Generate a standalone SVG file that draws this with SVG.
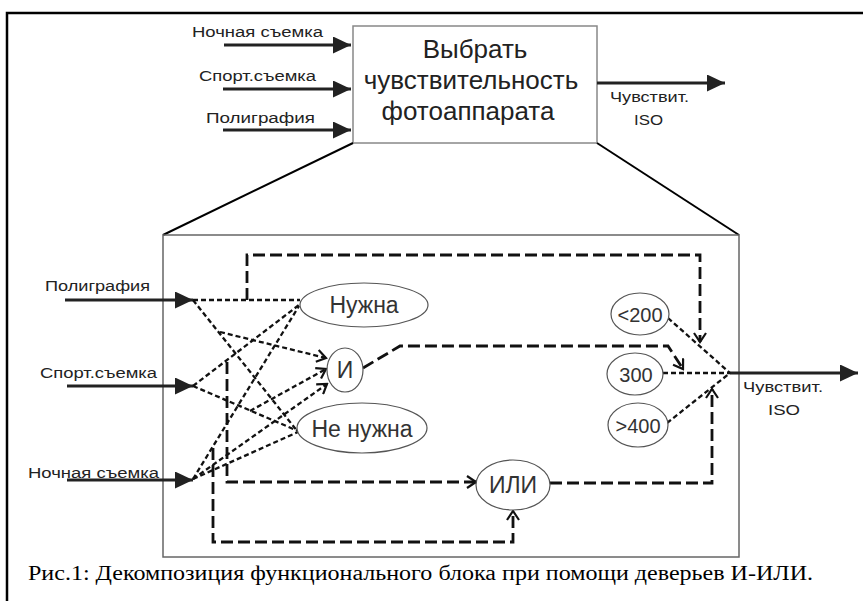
<svg xmlns="http://www.w3.org/2000/svg" width="863" height="601" viewBox="0 0 863 601">
<style>
.lbl{font-family:"Liberation Sans",Arial,sans-serif;font-size:15.5px;fill:#222}
.big{font-family:"Liberation Sans",Arial,sans-serif;font-size:26px;fill:#222;text-anchor:middle}
.nt{font-family:"Liberation Sans",Arial,sans-serif;font-size:23px;fill:#333;text-anchor:middle}
.vt{font-family:"Liberation Sans",Arial,sans-serif;font-size:20px;fill:#333;text-anchor:middle}
.cap{font-family:"Liberation Serif","Times New Roman",serif;font-size:20.5px;fill:#000}
.thick{stroke:#222;stroke-width:3.2;fill:none}
.sd{stroke:#111;stroke-width:2.3;stroke-dasharray:5 3;fill:none}
.ld{stroke:#111;stroke-width:2.8;stroke-dasharray:12 5;fill:none}
.el{fill:#fff;stroke:#555;stroke-width:1.2}
</style>
<defs>
<marker id="fa" markerUnits="userSpaceOnUse" markerWidth="19" markerHeight="17" refX="18" refY="8.5" orient="auto">
<path d="M0,0 L18,8.5 L0,17 z" fill="#222"/>
</marker>
<marker id="ch" markerUnits="userSpaceOnUse" markerWidth="12" markerHeight="14" refX="10" refY="7" orient="auto">
<path d="M1,1 L10,7 L1,13" fill="none" stroke="#111" stroke-width="2.2" stroke-dasharray="none"/>
</marker>
</defs>
<rect width="863" height="601" fill="#fff"/>
<path d="M7,601 L7,13 L863,13" stroke="#000" stroke-width="2.5" fill="none"/>

<g id="top-block">
<rect x="353" y="26" width="244" height="117" fill="#fff" stroke="#888" stroke-width="1.5"/>
<text class="big" x="475" y="58">Выбрать</text>
<text class="big" x="471" y="89">чувствительность</text>
<text class="big" x="468" y="120">фотоаппарата</text>
</g>

<g id="top-inputs">
<text class="lbl" x="192" y="37" textLength="131" lengthAdjust="spacingAndGlyphs">Ночная съемка</text>
<text class="lbl" x="199" y="81" textLength="117" lengthAdjust="spacingAndGlyphs">Спорт.съемка</text>
<text class="lbl" x="206" y="123" textLength="109" lengthAdjust="spacingAndGlyphs">Полиграфия</text>
<text class="lbl" x="610" y="102" textLength="79" lengthAdjust="spacingAndGlyphs">Чувствит.</text>
<text class="lbl" x="634" y="125" textLength="29" lengthAdjust="spacingAndGlyphs">ISO</text>
</g>

<g id="expansion">
<line x1="353" y1="143" x2="163" y2="235" stroke="#000" stroke-width="2"/>
<line x1="597" y1="143" x2="739" y2="235" stroke="#000" stroke-width="2"/>
<rect x="163" y="235" width="576" height="322" fill="none" stroke="#666" stroke-width="1.5"/>
</g>

<g id="connectors">
<line class="thick" x1="224" y1="45" x2="351" y2="45" marker-end="url(#fa)"/>
<line class="thick" x1="223" y1="89" x2="351" y2="89" marker-end="url(#fa)"/>
<line class="thick" x1="223" y1="130" x2="351" y2="130" marker-end="url(#fa)"/>
<line class="thick" x1="597" y1="83" x2="725" y2="83" marker-end="url(#fa)"/>
<line class="thick" x1="65" y1="300" x2="193" y2="300" marker-end="url(#fa)"/>
<line class="thick" x1="67" y1="386" x2="193" y2="386" marker-end="url(#fa)"/>
<line class="thick" x1="67" y1="480" x2="193" y2="480" marker-end="url(#fa)"/>
<line class="thick" x1="730" y1="373" x2="858" y2="373" marker-end="url(#fa)"/>

<path class="sd" d="M193,300 L300,300"/>
<path class="sd" d="M193,300 L298,432"/>
<path class="sd" d="M220,332 L326,358" marker-end="url(#ch)"/>
<path class="sd" d="M193,386 L299,305"/>
<path class="sd" d="M193,386 L298,431"/>
<path class="sd" d="M250,411 L326,369" marker-end="url(#ch)"/>
<path class="sd" d="M193,479 L299,306"/>
<path class="sd" d="M193,479 L327,384" marker-end="url(#ch)"/>
<path class="sd" d="M193,479 L298,432"/>

<path class="ld" d="M247,300 L247,255 L700,255 L700,342" marker-end="url(#ch)"/>
<path class="ld" d="M363,368 L400,346 L668,346 L683,369" marker-end="url(#ch)"/>
<path class="ld" d="M227,362 L227,482 L476,482" marker-end="url(#ch)"/>
<path class="ld" d="M213,448 L213,542 L513,542 L513,511" marker-end="url(#ch)"/>
<path class="ld" d="M550,483 L712,483 L712,389" marker-end="url(#ch)"/>

<path class="sd" d="M668,318 L730,373"/>
<path class="sd" d="M663,373 L730,373"/>
<path class="sd" d="M667,423 L730,373"/>
</g>

<g id="inner-labels">
<text class="lbl" x="45" y="291" textLength="105" lengthAdjust="spacingAndGlyphs">Полиграфия</text>
<text class="lbl" x="40" y="378" textLength="117" lengthAdjust="spacingAndGlyphs">Спорт.съемка</text>
<text class="lbl" x="28" y="478" textLength="131" lengthAdjust="spacingAndGlyphs">Ночная съемка</text>
<text class="lbl" x="743" y="392" textLength="80" lengthAdjust="spacingAndGlyphs">Чувствит.</text>
<text class="lbl" x="768" y="415" textLength="32" lengthAdjust="spacingAndGlyphs">ISO</text>
</g>

<g id="node-need">
<ellipse class="el" cx="364" cy="305" rx="64" ry="22"/>
<text class="nt" x="364" y="313">Нужна</text>
</g>
<g id="node-and">
<ellipse class="el" cx="345" cy="370" rx="18" ry="22"/>
<text class="nt" x="345" y="378">И</text>
</g>
<g id="node-noneed">
<ellipse class="el" cx="362" cy="428" rx="65" ry="25"/>
<text class="nt" x="362" y="437">Не нужна</text>
</g>
<g id="node-or">
<ellipse class="el" cx="513" cy="485" rx="37" ry="25"/>
<text class="nt" x="513" y="493">ИЛИ</text>
</g>
<g id="node-lt200">
<ellipse class="el" cx="640" cy="314" rx="29" ry="21"/>
<text class="vt" x="640" y="322">&lt;200</text>
</g>
<g id="node-300">
<ellipse class="el" cx="635" cy="374" rx="28" ry="21"/>
<text class="vt" x="636" y="382">300</text>
</g>
<g id="node-gt400">
<ellipse class="el" cx="638" cy="425" rx="30" ry="22"/>
<text class="vt" x="638" y="433">&gt;400</text>
</g>

<text class="cap" x="28" y="580" textLength="785" lengthAdjust="spacingAndGlyphs">Рис.1: Декомпозиция функционального блока при помощи деверьев И-ИЛИ.</text>
</svg>
